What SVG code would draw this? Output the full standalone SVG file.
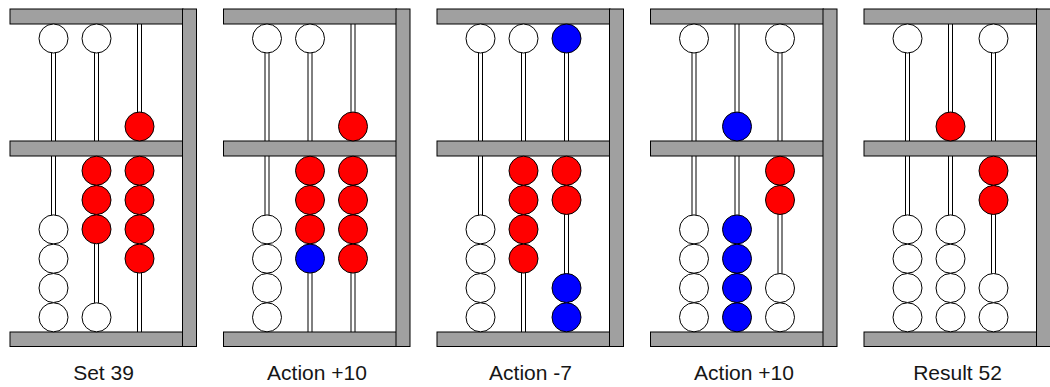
<svg xmlns="http://www.w3.org/2000/svg" width="1050" height="387" viewBox="0 0 1050 387">
<style>
.bar{fill:#a0a0a0;stroke:#000;stroke-width:1}
.rod{fill:#fff;stroke:#000;stroke-width:1}
.b{stroke:#000;stroke-width:1}
.w{fill:#fff}
.r{fill:#ff0000}
.u{fill:#0000ff}
.lbl{font-family:"Liberation Sans",Arial,sans-serif;font-size:21px;fill:#161616;text-anchor:middle}
</style>
<defs>
<g id="frame">
<rect class="rod" x="41.5" y="14" width="4" height="326"/>
<rect class="rod" x="84.5" y="14" width="4" height="326"/>
<rect class="rod" x="127.5" y="14" width="4" height="326"/>
<rect class="bar" x="0" y="9" width="173" height="15"/>
<rect class="bar" x="0" y="141" width="173" height="15"/>
<rect class="bar" x="0" y="332" width="173" height="14.5"/>
<rect class="bar" x="172.5" y="9" width="14" height="337.5"/>
</g>
</defs>
<rect width="1050" height="387" fill="#fff"/>

<g id="panel1" transform="translate(10,0)">
<use href="#frame"/>
<circle class="b w" cx="43.5" cy="38.5" r="14.5"/>
<circle class="b w" cx="43.5" cy="229.4" r="14.5"/>
<circle class="b w" cx="43.5" cy="258.7" r="14.5"/>
<circle class="b w" cx="43.5" cy="288" r="14.5"/>
<circle class="b w" cx="43.5" cy="317.3" r="14.5"/>
<circle class="b w" cx="86.5" cy="38.5" r="14.5"/>
<circle class="b r" cx="86.5" cy="170.7" r="14.5"/>
<circle class="b r" cx="86.5" cy="200" r="14.5"/>
<circle class="b r" cx="86.5" cy="229.3" r="14.5"/>
<circle class="b w" cx="86.5" cy="317.3" r="14.5"/>
<circle class="b r" cx="129.5" cy="126.5" r="14.5"/>
<circle class="b r" cx="129.5" cy="170.7" r="14.5"/>
<circle class="b r" cx="129.5" cy="200" r="14.5"/>
<circle class="b r" cx="129.5" cy="229.3" r="14.5"/>
<circle class="b r" cx="129.5" cy="258.6" r="14.5"/>
<text class="lbl" x="93.5" y="380">Set 39</text>
</g>

<g id="panel2" transform="translate(223.5,0)">
<use href="#frame"/>
<circle class="b w" cx="43.5" cy="38.5" r="14.5"/>
<circle class="b w" cx="43.5" cy="229.4" r="14.5"/>
<circle class="b w" cx="43.5" cy="258.7" r="14.5"/>
<circle class="b w" cx="43.5" cy="288" r="14.5"/>
<circle class="b w" cx="43.5" cy="317.3" r="14.5"/>
<circle class="b w" cx="86.5" cy="38.5" r="14.5"/>
<circle class="b r" cx="86.5" cy="170.7" r="14.5"/>
<circle class="b r" cx="86.5" cy="200" r="14.5"/>
<circle class="b r" cx="86.5" cy="229.3" r="14.5"/>
<circle class="b u" cx="86.5" cy="258.6" r="14.5"/>
<circle class="b r" cx="129.5" cy="126.5" r="14.5"/>
<circle class="b r" cx="129.5" cy="170.7" r="14.5"/>
<circle class="b r" cx="129.5" cy="200" r="14.5"/>
<circle class="b r" cx="129.5" cy="229.3" r="14.5"/>
<circle class="b r" cx="129.5" cy="258.6" r="14.5"/>
<text class="lbl" x="93.5" y="380">Action +10</text>
</g>

<g id="panel3" transform="translate(437,0)">
<use href="#frame"/>
<circle class="b w" cx="43.5" cy="38.5" r="14.5"/>
<circle class="b w" cx="43.5" cy="229.4" r="14.5"/>
<circle class="b w" cx="43.5" cy="258.7" r="14.5"/>
<circle class="b w" cx="43.5" cy="288" r="14.5"/>
<circle class="b w" cx="43.5" cy="317.3" r="14.5"/>
<circle class="b w" cx="86.5" cy="38.5" r="14.5"/>
<circle class="b r" cx="86.5" cy="170.7" r="14.5"/>
<circle class="b r" cx="86.5" cy="200" r="14.5"/>
<circle class="b r" cx="86.5" cy="229.3" r="14.5"/>
<circle class="b r" cx="86.5" cy="258.6" r="14.5"/>
<circle class="b u" cx="129.5" cy="38.5" r="14.5"/>
<circle class="b r" cx="129.5" cy="170.7" r="14.5"/>
<circle class="b r" cx="129.5" cy="200" r="14.5"/>
<circle class="b u" cx="129.5" cy="288" r="14.5"/>
<circle class="b u" cx="129.5" cy="317.3" r="14.5"/>
<text class="lbl" x="93.5" y="380">Action -7</text>
</g>

<g id="panel4" transform="translate(650.5,0)">
<use href="#frame"/>
<circle class="b w" cx="43.5" cy="38.5" r="14.5"/>
<circle class="b w" cx="43.5" cy="229.4" r="14.5"/>
<circle class="b w" cx="43.5" cy="258.7" r="14.5"/>
<circle class="b w" cx="43.5" cy="288" r="14.5"/>
<circle class="b w" cx="43.5" cy="317.3" r="14.5"/>
<circle class="b u" cx="86.5" cy="126.5" r="14.5"/>
<circle class="b u" cx="86.5" cy="229.4" r="14.5"/>
<circle class="b u" cx="86.5" cy="258.7" r="14.5"/>
<circle class="b u" cx="86.5" cy="288" r="14.5"/>
<circle class="b u" cx="86.5" cy="317.3" r="14.5"/>
<circle class="b w" cx="129.5" cy="38.5" r="14.5"/>
<circle class="b r" cx="129.5" cy="170.7" r="14.5"/>
<circle class="b r" cx="129.5" cy="200" r="14.5"/>
<circle class="b w" cx="129.5" cy="288" r="14.5"/>
<circle class="b w" cx="129.5" cy="317.3" r="14.5"/>
<text class="lbl" x="93.5" y="380">Action +10</text>
</g>

<g id="panel5" transform="translate(864,0)">
<use href="#frame"/>
<circle class="b w" cx="43.5" cy="38.5" r="14.5"/>
<circle class="b w" cx="43.5" cy="229.4" r="14.5"/>
<circle class="b w" cx="43.5" cy="258.7" r="14.5"/>
<circle class="b w" cx="43.5" cy="288" r="14.5"/>
<circle class="b w" cx="43.5" cy="317.3" r="14.5"/>
<circle class="b r" cx="86.5" cy="126.5" r="14.5"/>
<circle class="b w" cx="86.5" cy="229.4" r="14.5"/>
<circle class="b w" cx="86.5" cy="258.7" r="14.5"/>
<circle class="b w" cx="86.5" cy="288" r="14.5"/>
<circle class="b w" cx="86.5" cy="317.3" r="14.5"/>
<circle class="b w" cx="129.5" cy="38.5" r="14.5"/>
<circle class="b r" cx="129.5" cy="170.7" r="14.5"/>
<circle class="b r" cx="129.5" cy="200" r="14.5"/>
<circle class="b w" cx="129.5" cy="288" r="14.5"/>
<circle class="b w" cx="129.5" cy="317.3" r="14.5"/>
<text class="lbl" x="93.5" y="380">Result 52</text>
</g>
</svg>
